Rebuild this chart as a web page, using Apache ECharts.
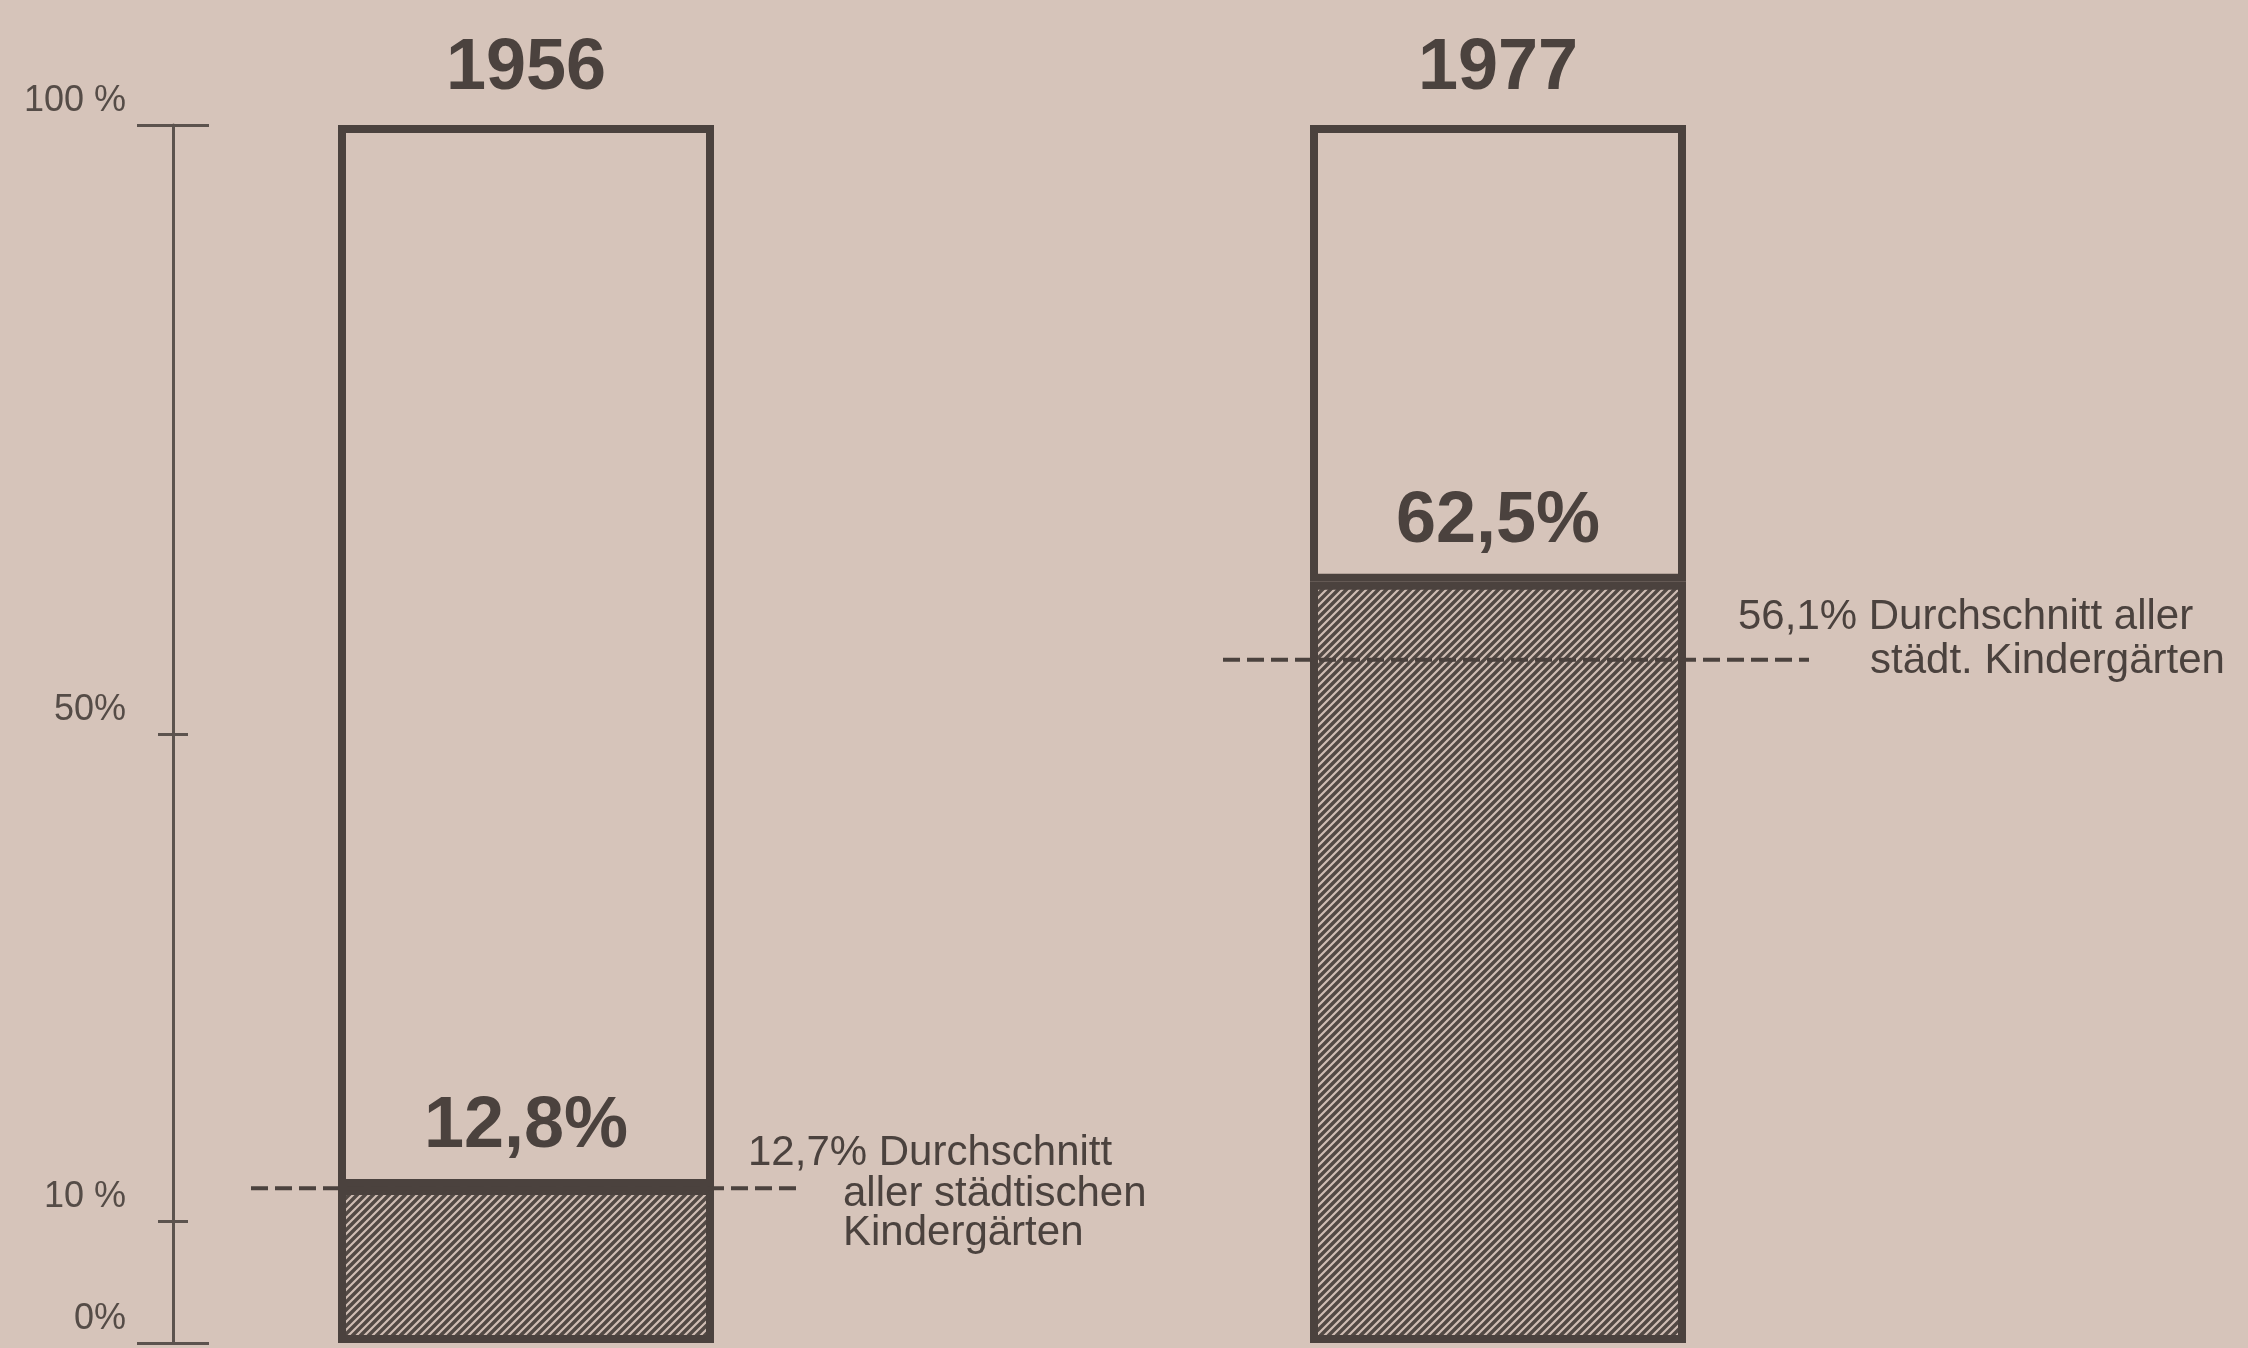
<!DOCTYPE html>
<html>
<head>
<meta charset="utf-8">
<script src="https://cdn.jsdelivr.net/npm/echarts@6/dist/echarts.min.js"></script>
<style>
  html, body { margin: 0; padding: 0; background: #d6c4ba; }
  #chart { width: 2248px; height: 1348px; }
</style>
</head>
<body>
<div id="chart"></div>
<script>
// ---------------- data ----------------
const categories = ['1956', '1977'];
const shareValues = [12.8, 62.5];                 // hatched share (%)
const shareLabels = ['12,8%', '62,5%'];
const averageValues = [12.7, 56.1];               // city-wide average (%)
const averageTexts = [
  ['12,7% Durchschnitt', 'aller städtischen', 'Kindergärten'],
  ['56,1% Durchschnitt aller', 'städt. Kindergärten']
];
const axisTickValues = [0, 10, 50, 100];
const axisTickLabels = ['0%', '10 %', '50%', '100 %'];
const minorTicks = [10, 50];
const majorTicks = [0, 100];
const totalValue = 100;

// ---------------- styles ----------------
const INK = '#4b423e';
const AXIS_INK = '#5c534e';
const PAPER = '#d6c4ba';
const SANS = "'Liberation Sans', Arial, sans-serif";

// annotation layout (pixels relative to bar centre / average line)
const annoStyle = [
  { left: 275, right: 277, lines: [[222, -35], [317, 6], [317, 45]] },
  { left: 275, right: 311, lines: [[240, -42], [372, 2]] }
];

// hatch pattern
function makeHatch() {
  const s = 8;
  const c = document.createElement('canvas');
  c.width = s; c.height = s;
  const g = c.getContext('2d');
  g.fillStyle = '#d0beb4';
  g.fillRect(0, 0, s, s);
  g.strokeStyle = '#524944';
  g.lineWidth = 3.5;
  g.beginPath();
  g.moveTo(-2, s + 2); g.lineTo(s + 2, -2);
  g.moveTo(-s / 2 - 2, s / 2 + 2); g.lineTo(s / 2 + 2, -s / 2 - 2);
  g.moveTo(s / 2 - 2, s * 1.5 + 2); g.lineTo(s * 1.5 + 2, s / 2 - 2);
  g.stroke();
  return c;
}

const remainder = shareValues.map(v => totalValue - v);

function yAxisBase(extra) {
  return Object.assign({
    type: 'value', min: 0, max: totalValue, position: 'left', offset: -133,
    splitLine: { show: false },
    axisLine: { show: false },
    axisLabel: { show: false },
    axisTick: { show: false }
  }, extra);
}

const chart = echarts.init(document.getElementById('chart'), null, { renderer: 'canvas' });

chart.setOption({
  backgroundColor: PAPER,
  animation: false,
  grid: { left: 40, right: 264, top: 125, bottom: 5 },
  xAxis: {
    type: 'category',
    data: categories,
    position: 'top',
    axisLine: { show: false },
    axisTick: { show: false },
    axisLabel: {
      color: INK, fontFamily: SANS, fontWeight: 'bold', fontSize: 72,
      lineHeight: 72, margin: 20
    }
  },
  yAxis: [
    yAxisBase({
      axisLine: { show: true, lineStyle: { color: AXIS_INK, width: 3 } },
      axisTick: { show: true, customValues: minorTicks, length: 15, inside: false,
                  lineStyle: { color: AXIS_INK, width: 3 } },
      axisLabel: {
        show: true, customValues: axisTickValues, margin: 47,
        color: '#554c47', fontFamily: SANS, fontSize: 36, lineHeight: 36,
        verticalAlign: 'bottom', padding: [0, 0, 6, 0],
        formatter: v => axisTickLabels[axisTickValues.indexOf(v)]
      }
    }),
    yAxisBase({
      axisTick: { show: true, customValues: minorTicks, length: 15, inside: true,
                  lineStyle: { color: AXIS_INK, width: 3 } }
    }),
    yAxisBase({
      axisTick: { show: true, customValues: majorTicks, length: 36, inside: false,
                  lineStyle: { color: AXIS_INK, width: 3 } }
    }),
    yAxisBase({
      axisTick: { show: true, customValues: majorTicks, length: 36, inside: true,
                  lineStyle: { color: AXIS_INK, width: 3 } }
    })
  ],
  series: [
    {
      type: 'bar', stack: 'total', yAxisIndex: 0, barWidth: 376,
      data: shareValues,
      itemStyle: {
        color: { image: makeHatch(), repeat: 'repeat' },
        borderColor: INK, borderWidth: 8
      },
      label: {
        show: true, position: 'top', distance: 24,
        color: INK, fontFamily: SANS, fontWeight: 'bold', fontSize: 72, lineHeight: 72,
        formatter: p => shareLabels[p.dataIndex]
      },
      z: 3
    },
    {
      type: 'bar', stack: 'total', yAxisIndex: 0, barWidth: 376,
      data: remainder,
      itemStyle: { color: 'rgba(0,0,0,0)', borderColor: INK, borderWidth: 8 },
      z: 2
    },
    {
      type: 'custom', yAxisIndex: 0, z: 5,
      data: averageValues.map((v, i) => [i, v]),
      renderItem: function (params, api) {
        const i = params.dataIndex;
        const p = api.coord([api.value(0), api.value(1)]);
        const st = annoStyle[i];
        const children = [{
          type: 'line',
          shape: { x1: p[0] - st.left, y1: p[1], x2: p[0] + st.right, y2: p[1] },
          style: { stroke: INK, lineWidth: 4, lineDash: [17, 7] }
        }];
        averageTexts[i].forEach((t, k) => {
          children.push({
            type: 'text',
            style: {
              text: t, x: p[0] + st.lines[k][0], y: p[1] + st.lines[k][1],
              fill: INK, font: "42px 'Liberation Sans', Arial, sans-serif",
              align: 'left', verticalAlign: 'middle'
            }
          });
        });
        return { type: 'group', children: children };
      }
    }
  ]
});
</script>
</body>
</html>
